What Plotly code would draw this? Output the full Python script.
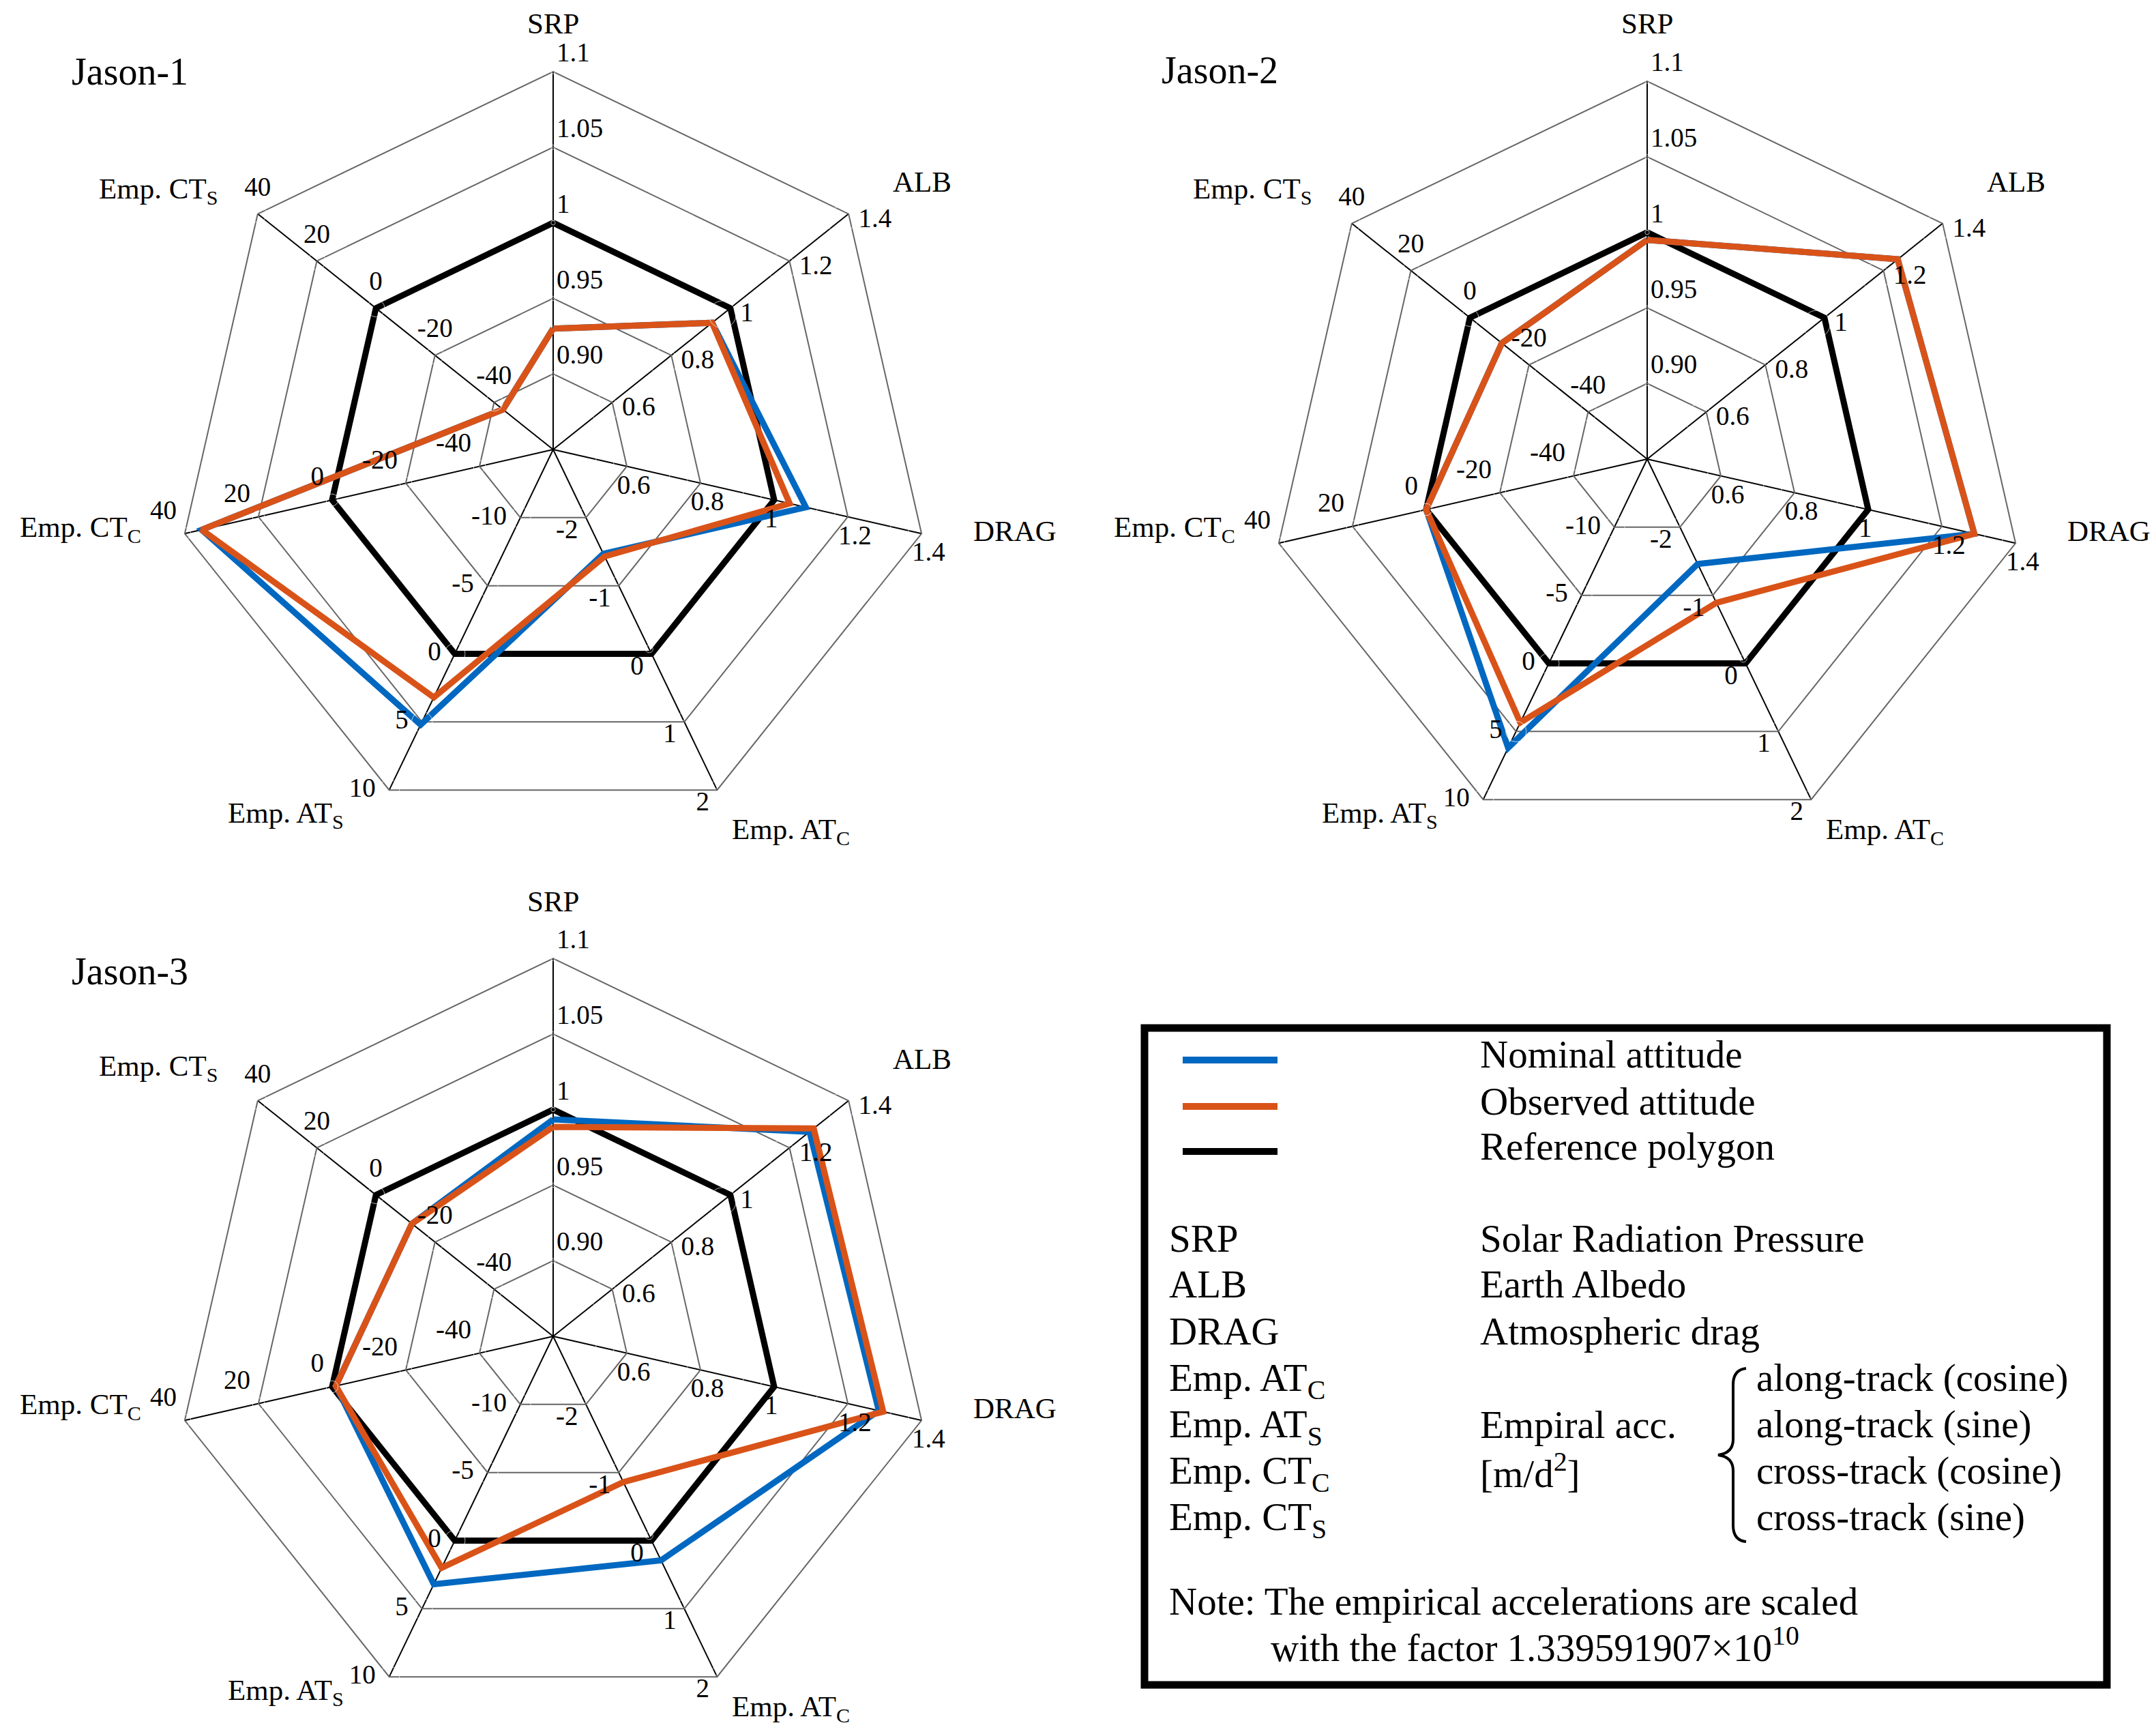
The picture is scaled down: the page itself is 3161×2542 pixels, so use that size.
import plotly.graph_objects as go

W, H = 3161, 2542
FONT = "Liberation Serif"

# ---------------- data ----------------
categories = ["SRP", "ALB", "DRAG", "ATC", "ATS", "CTC", "CTS"]
axis_names = ["SRP", "ALB", "DRAG", "Emp. AT<sub>C</sub>", "Emp. AT<sub>S</sub>",
              "Emp. CT<sub>C</sub>", "Emp. CT<sub>S</sub>"]
axis_lo = [0.85, 0.4, 0.4, -3, -15, -60, -60]
axis_hi = [1.10, 1.4, 1.4, 2, 10, 40, 40]
tick_labels = [
    ["0.90", "0.95", "1", "1.05", "1.1"],
    ["0.6", "0.8", "1", "1.2", "1.4"],
    ["0.6", "0.8", "1", "1.2", "1.4"],
    ["-2", "-1", "0", "1", "2"],
    ["-10", "-5", "0", "5", "10"],
    ["-40", "-20", "0", "20", "40"],
    ["-40", "-20", "0", "20", "40"],
]
reference = [1, 1, 1, 0, 0, 0, 0]

jason1_nominal = [0.930, 0.938, 1.086, -1.47, 5.2, 35.4, -43.0]
jason1_observed = [0.930, 0.938, 1.042, -1.43, 3.2, 35.4, -43.0]
jason2_nominal = [0.995, 1.248, 1.288, -1.46, 6.2, 0.0, -10.8]
jason2_observed = [0.995, 1.248, 1.288, -0.89, 4.35, 0.0, -10.8]
jason3_nominal = [0.9935, 1.268, 1.284, 0.29, 3.2, -1.0, -12.2]
jason3_observed = [0.9885, 1.282, 1.296, -0.86, 2.0, -1.0, -12.2]

satellites = ["Jason-1", "Jason-2", "Jason-3"]
nominal = [jason1_nominal, jason2_nominal, jason3_nominal]
observed = [jason1_observed, jason2_observed, jason3_observed]

BLUE = "#0068C0"
ORANGE = "#D95319"

# ---------------- layout geometry ----------------
R = 554
RING_PX = R / 5
centers = [(803, 651), (2407, 665), (803, 1951)]
label_origins = [(803, 658), (2407, 658), (803, 1944)]
title_pos = [(95, 97), (1693, 95), (95, 1416)]

# axis-name placement relative to label origin (px), anchor
name_offsets = [(0, -631, "center"), (496, -400, "left"), (614, 112, "left"),
                (260, 553, "left"), (-305, 529, "right"), (-602, 110, "right"),
                (-490, -386, "right")]
# ring tick-label placement per axis: text position, offset (px), radial shift (px)
tick_pos = ["top right", "middle right", "bottom right", "bottom left",
            "middle left", "top left", "top center"]
tick_off = [5, 26, 18, 8, 20, 12, 17]
tick_shift = [0, -15, -33, -8, 0, 0, 0]


def px(x):
    return x / W


def py(y):
    return 1 - y / H


def norm(vals):
    return [5 * (v - lo) / (hi - lo) for v, lo, hi in zip(vals, axis_lo, axis_hi)]


def closed(lst):
    return list(lst) + [lst[0]]


fig = go.Figure()
layout_polars = {}
annotations = []
for i, sat in enumerate(satellites):
    pname = "polar" if i == 0 else f"polar{i + 1}"
    cx, cy = centers[i]
    layout_polars[pname] = dict(
        domain=dict(x=[px(cx - R), px(cx + R)], y=[py(cy + R), py(cy - R)]),
        gridshape="linear",
        bgcolor="white",
        radialaxis=dict(range=[0, 5], tickvals=[1, 2, 3, 4], showticklabels=False,
                        ticks="", showline=False, gridcolor="#666666", gridwidth=2,
                        layer="below traces"),
        angularaxis=dict(type="category", categoryarray=categories,
                         direction="clockwise", rotation=90,
                         tickvals=categories, showticklabels=False, ticks="",
                         showline=True, linecolor="#666666", linewidth=2,
                         gridcolor="black", gridwidth=2, layer="below traces"),
    )
    sub = pname
    fig.add_trace(go.Scatterpolar(r=closed(norm(reference)), theta=closed(categories),
                                  mode="lines", line=dict(color="black", width=9),
                                  subplot=sub, showlegend=False, hoverinfo="skip"))
    fig.add_trace(go.Scatterpolar(r=closed(norm(nominal[i])), theta=closed(categories),
                                  mode="lines", line=dict(color=BLUE, width=9),
                                  subplot=sub, showlegend=False))
    fig.add_trace(go.Scatterpolar(r=closed(norm(observed[i])), theta=closed(categories),
                                  mode="lines", line=dict(color=ORANGE, width=9),
                                  subplot=sub, showlegend=False))
    # ring tick labels along each spoke
    tr, tt, tx, tp, ms = [], [], [], [], []
    for k, cat in enumerate(categories):
        for j, lab in enumerate(tick_labels[k]):
            shift = tick_shift[k] / RING_PX
            if j == 4 and shift > 0:
                shift = 0.0
            tr.append(5 * (float(lab) - axis_lo[k]) / (axis_hi[k] - axis_lo[k]) + shift)
            tt.append(cat)
            tx.append(lab)
            tp.append(tick_pos[k])
            ms.append((tick_off[k] - 1) * 1.6)
    fig.add_trace(go.Scatterpolar(r=tr, theta=tt, text=tx, mode="text+markers",
                                  marker=dict(size=ms, color="rgba(0,0,0,0)"),
                                  textposition=tp, cliponaxis=False,
                                  textfont=dict(family=FONT, size=39, color="black"),
                                  subplot=sub, showlegend=False, hoverinfo="skip"))
    # axis names
    ox, oy = label_origins[i]
    for name, (dx, dy, anc) in zip(axis_names, name_offsets):
        annotations.append(dict(x=px(ox + dx), y=py(oy + dy), xref="paper", yref="paper",
                                text=name, showarrow=False, xanchor=anc, yanchor="middle",
                                font=dict(family=FONT, size=43, color="black")))
    # title
    tx0, ty0 = title_pos[i]
    annotations.append(dict(x=px(tx0), y=py(ty0), xref="paper", yref="paper", text=sat,
                            showarrow=False, xanchor="left", yanchor="middle",
                            font=dict(family=FONT, size=56, color="black")))

# ---------------- legend box ----------------
shapes = [dict(type="rect", xref="paper", yref="paper",
               x0=px(1670), x1=px(3081), y0=py(2462), y1=py(1499),
               line=dict(color="black", width=11), fillcolor="white", layer="below")]
LFS = 57
DY = -8
legend_rows = [("Nominal attitude", BLUE, 1546), ("Observed attitude", ORANGE, 1614),
               ("Reference polygon", "black", 1680)]
for label, col, y in legend_rows:
    shapes.append(dict(type="line", xref="paper", yref="paper", x0=px(1726), x1=px(1865),
                       y0=py(y), y1=py(y), line=dict(color=col, width=10)))
    annotations.append(dict(x=px(2160), y=py(y + DY), xref="paper", yref="paper", text=label,
                            showarrow=False, xanchor="left", yanchor="middle",
                            font=dict(family=FONT, size=LFS, color="black")))

abbr = ["SRP", "ALB", "DRAG", "Emp. AT<sub>C</sub>", "Emp. AT<sub>S</sub>",
        "Emp. CT<sub>C</sub>", "Emp. CT<sub>S</sub>"]
desc = ["Solar Radiation Pressure", "Earth Albedo", "Atmospheric drag", "",
        "Empiral acc.", "[m/d<sup>2</sup>]", ""]
detail = ["", "", "", "along-track (cosine)", "along-track (sine)",
          "cross-track (cosine)", "cross-track (sine)"]
row_y = [1815, 1883, 1951, 2020, 2088, 2156, 2224]
for a, d, e, y in zip(abbr, desc, detail, row_y):
    annotations.append(dict(x=px(1704), y=py(y + DY + (4 if "sub" in a else 0)),
                            xref="paper", yref="paper", text=a,
                            showarrow=False, xanchor="left", yanchor="middle",
                            font=dict(family=FONT, size=LFS, color="black")))
    if d:
        annotations.append(dict(x=px(2160), y=py(y + DY), xref="paper", yref="paper", text=d,
                                showarrow=False, xanchor="left", yanchor="middle",
                                font=dict(family=FONT, size=LFS, color="black")))
    if e:
        annotations.append(dict(x=px(2565), y=py(y + DY), xref="paper", yref="paper", text=e,
                                showarrow=False, xanchor="left", yanchor="middle",
                                font=dict(family=FONT, size=LFS, color="black")))

annotations.append(dict(x=px(1704), y=py(2347 + DY), xref="paper", yref="paper",
                        text="Note: The empirical accelerations are scaled",
                        showarrow=False, xanchor="left", yanchor="middle",
                        font=dict(family=FONT, size=LFS, color="black")))
annotations.append(dict(x=px(1853), y=py(2411 + DY), xref="paper", yref="paper",
                        text="with the factor 1.339591907×10<sup>10</sup>",
                        showarrow=False, xanchor="left", yanchor="middle",
                        font=dict(family=FONT, size=LFS, color="black")))

# curly brace
bx = [2552, 2533, 2533, 2533, 2533, 2511, 2533, 2533, 2533, 2533, 2552]
by = [1998, 2000, 2022, 2102, 2122, 2125, 2128, 2148, 2228, 2250, 2252]
pts = [(px(x), py(y)) for x, y in zip(bx, by)]
path = (f"M {pts[0][0]},{pts[0][1]} Q {pts[1][0]},{pts[1][1]} {pts[2][0]},{pts[2][1]} "
        f"L {pts[3][0]},{pts[3][1]} Q {pts[4][0]},{pts[4][1]} {pts[5][0]},{pts[5][1]} "
        f"Q {pts[6][0]},{pts[6][1]} {pts[7][0]},{pts[7][1]} "
        f"L {pts[8][0]},{pts[8][1]} Q {pts[9][0]},{pts[9][1]} {pts[10][0]},{pts[10][1]}")
shapes.append(dict(type="path", xref="paper", yref="paper", path=path,
                   line=dict(color="black", width=4)))

fig.update_layout(
    width=W, height=H, autosize=False,
    margin=dict(l=0, r=0, t=0, b=0),
    paper_bgcolor="white", plot_bgcolor="white",
    showlegend=False,
    annotations=annotations, shapes=shapes,
    **layout_polars,
)

fig.write_html("out.html")
